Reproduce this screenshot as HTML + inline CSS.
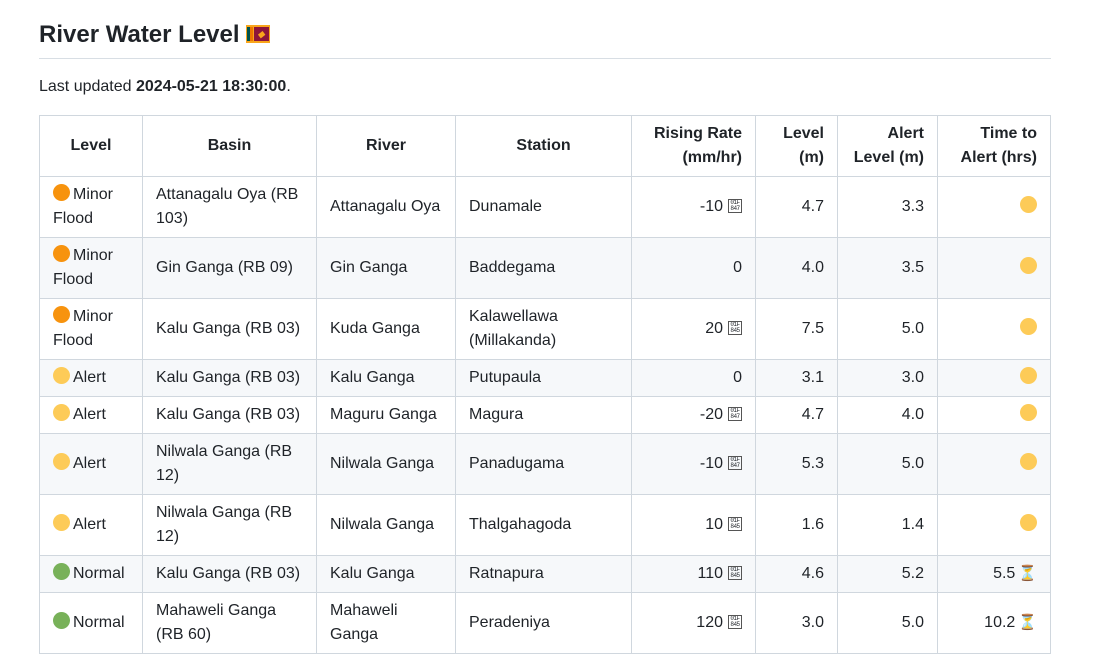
<!DOCTYPE html>
<html><head><meta charset="utf-8">
<style>
body{margin:0;background:#fff;font-family:"Liberation Sans",Arial,Helvetica,sans-serif;color:#1f2328;width:1100px;height:618px;overflow:hidden}
.wrap{position:absolute;left:39px;top:0;width:1012px}
h1{font-size:24px;font-weight:bold;margin:0;padding-top:21px;height:28px;line-height:28px;padding-bottom:9px;border-bottom:1px solid #d8dee4}
p{margin:0;margin-top:18px;font-size:16px;line-height:20px}
table{border-collapse:collapse;margin-top:18px;font-size:16px;line-height:24px;width:1012px}
th,td{border:1px solid #d0d7de;padding:6px 13px}
th{font-weight:bold;text-align:center}
tbody tr:nth-child(even) td{background:#f6f8fa}
.r{text-align:right}
.dot{display:inline-block;width:17px;height:17px;border-radius:50%;vertical-align:-2px;margin-right:3px}
.o{background:#f7930e}.y{background:#fdcb58}.g{background:#78b159}
.tofu{display:inline-block;width:14px;height:14px;border:1px solid #555;font-size:6px;line-height:6px;font-family:"Liberation Mono",monospace;text-align:center;vertical-align:top;margin-top:4px;margin-left:5px;box-sizing:border-box;letter-spacing:-0.5px;overflow:hidden}
.flag{display:inline-block;width:24px;height:18px;vertical-align:-1px;margin-left:6px;background:#f9a51b;position:relative;box-sizing:border-box}
.flag i{position:absolute;top:2px;height:14px}
.hg{color:#f4a32a;font-size:15px;margin-left:3px}
</style></head><body>
<div class="wrap">
<h1>River Water Level<span class="flag"><i style="left:1px;width:3px;background:#00534e"></i><i style="left:4px;width:3px;background:#eb7400"></i><i style="left:8px;width:15px;background:#8d153a;color:#f9a51b;font-size:9px;line-height:14px;text-align:center">◆</i></span></h1>
<p>Last updated <b>2024-05-21 18:30:00</b>.</p>
<table>
<colgroup><col style="width:103px"><col style="width:174px"><col style="width:139px"><col style="width:176px"><col style="width:124px"><col style="width:82px"><col style="width:100px"><col style="width:113px"></colgroup>
<thead><tr><th>Level</th><th>Basin</th><th>River</th><th>Station</th><th class="r">Rising Rate<br>(mm/hr)</th><th class="r">Level<br>(m)</th><th class="r">Alert<br>Level (m)</th><th class="r">Time to<br>Alert (hrs)</th></tr></thead>
<tbody>
<tr><td><span class="dot o"></span>Minor Flood</td><td>Attanagalu Oya (RB 103)</td><td>Attanagalu Oya</td><td>Dunamale</td><td class="r">-10<span class="tofu">01F<br>847</span></td><td class="r">4.7</td><td class="r">3.3</td><td class="r"><span class="dot y" style="margin:0"></span></td></tr>
<tr><td><span class="dot o"></span>Minor Flood</td><td>Gin Ganga (RB 09)</td><td>Gin Ganga</td><td>Baddegama</td><td class="r">0</td><td class="r">4.0</td><td class="r">3.5</td><td class="r"><span class="dot y" style="margin:0"></span></td></tr>
<tr><td><span class="dot o"></span>Minor Flood</td><td>Kalu Ganga (RB 03)</td><td>Kuda Ganga</td><td>Kalawellawa (Millakanda)</td><td class="r">20<span class="tofu">01F<br>845</span></td><td class="r">7.5</td><td class="r">5.0</td><td class="r"><span class="dot y" style="margin:0"></span></td></tr>
<tr><td><span class="dot y"></span>Alert</td><td>Kalu Ganga (RB 03)</td><td>Kalu Ganga</td><td>Putupaula</td><td class="r">0</td><td class="r">3.1</td><td class="r">3.0</td><td class="r"><span class="dot y" style="margin:0"></span></td></tr>
<tr><td><span class="dot y"></span>Alert</td><td>Kalu Ganga (RB 03)</td><td>Maguru Ganga</td><td>Magura</td><td class="r">-20<span class="tofu">01F<br>847</span></td><td class="r">4.7</td><td class="r">4.0</td><td class="r"><span class="dot y" style="margin:0"></span></td></tr>
<tr><td><span class="dot y"></span>Alert</td><td>Nilwala Ganga (RB 12)</td><td>Nilwala Ganga</td><td>Panadugama</td><td class="r">-10<span class="tofu">01F<br>847</span></td><td class="r">5.3</td><td class="r">5.0</td><td class="r"><span class="dot y" style="margin:0"></span></td></tr>
<tr><td><span class="dot y"></span>Alert</td><td>Nilwala Ganga (RB 12)</td><td>Nilwala Ganga</td><td>Thalgahagoda</td><td class="r">10<span class="tofu">01F<br>845</span></td><td class="r">1.6</td><td class="r">1.4</td><td class="r"><span class="dot y" style="margin:0"></span></td></tr>
<tr><td><span class="dot g"></span>Normal</td><td>Kalu Ganga (RB 03)</td><td>Kalu Ganga</td><td>Ratnapura</td><td class="r">110<span class="tofu">01F<br>845</span></td><td class="r">4.6</td><td class="r">5.2</td><td class="r">5.5<span class="hg">⏳</span></td></tr>
<tr><td><span class="dot g"></span>Normal</td><td>Mahaweli Ganga (RB 60)</td><td>Mahaweli Ganga</td><td>Peradeniya</td><td class="r">120<span class="tofu">01F<br>845</span></td><td class="r">3.0</td><td class="r">5.0</td><td class="r">10.2<span class="hg">⏳</span></td></tr>
</tbody>
</table>
</div>
</body></html>
